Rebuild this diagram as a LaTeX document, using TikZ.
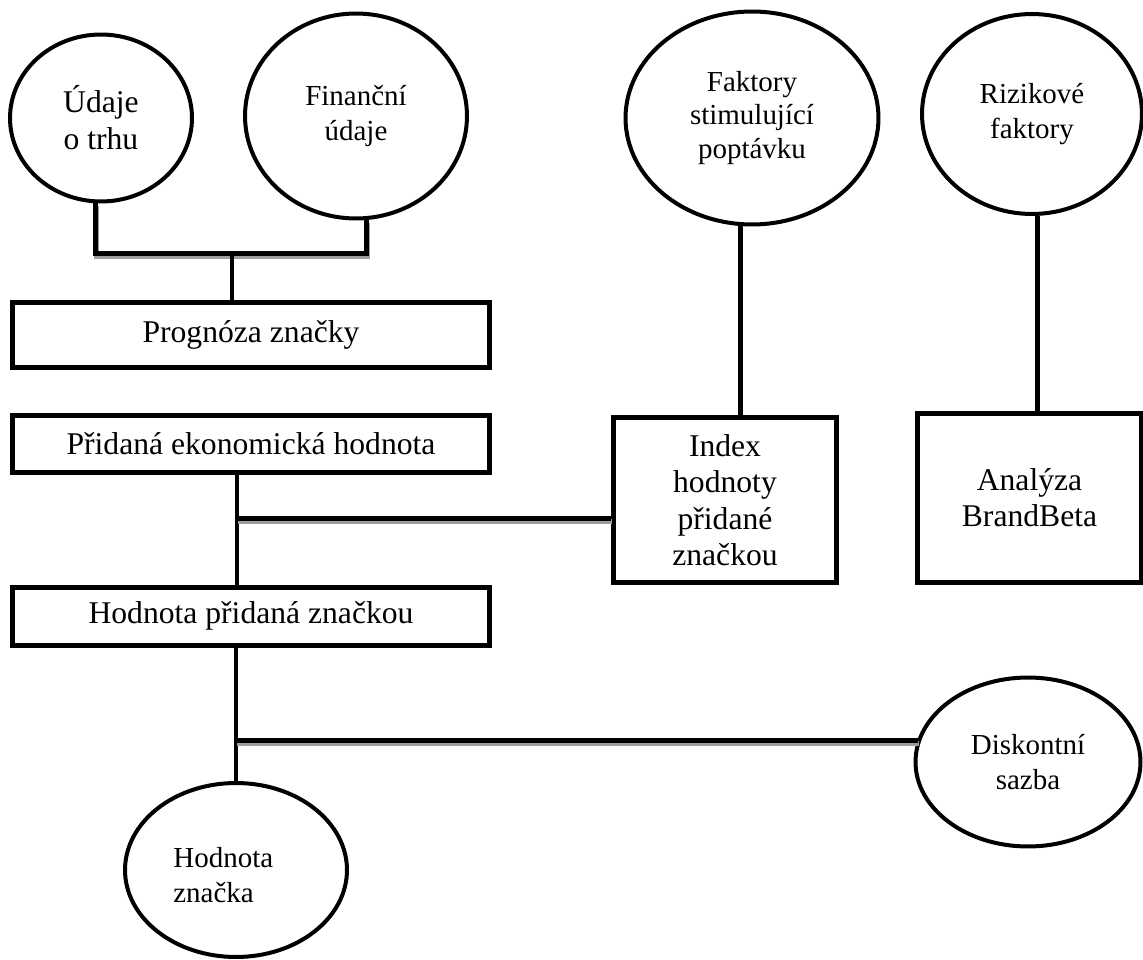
\documentclass[tikz,border=0pt]{standalone}
\usepackage{fontspec}
\setmainfont{Liberation Serif}
\usetikzlibrary{shapes.geometric}

\tikzset{
  bigtxt/.style={font=\fontsize{18}{21}\selectfont},
  smalltxt/.style={font=\fontsize{16.5}{20}\selectfont},
  oval/.style={ellipse, draw, line width=0.08cm, inner sep=0pt, align=center},
  box/.style={rectangle, draw, line width=0.1cm, inner sep=0pt, align=center, bigtxt},
  link/.style={line width=0.09cm},
  bar/.style={line width=0.1cm,
    preaction={draw=black!38, line width=0.1cm, transform canvas={shift={(0.02cm,-0.06cm)}}}},
}

\begin{document}
\begin{tikzpicture}[x=0.02cm, y=-0.02cm]
  \useasboundingbox (0,0) rectangle (1143,960);

  % sources at the top
  \node[oval, minimum width=3.64cm, minimum height=3.34cm, font=\fontsize{18}{21}\selectfont] (udaje) at (101,118) {Údaje\\o trhu};
  \node[oval, minimum width=4.44cm, minimum height=4.1cm, smalltxt] (fin) at (356,116) {Finanční\\údaje};
  \node[oval, minimum width=5.06cm, minimum height=4.26cm, font=\fontsize{16.5}{19}\selectfont] (fakt) at (752,118) {Faktory\\stimulující\\poptávku};
  \node[oval, minimum width=4.4cm, minimum height=4.0cm, smalltxt] (riz) at (1032,114) {Rizikové\\faktory};

  % boxes
  \node[box, minimum width=9.56cm, minimum height=1.32cm] (prog) at (251,335) {Prognóza značky};
  \node[box, minimum width=9.56cm, minimum height=1.16cm] (pev) at (251,444) {Přidaná ekonomická hodnota};
  \node[box, minimum width=9.56cm, minimum height=1.16cm] (hpz) at (251,616) {Hodnota přidaná značkou};
  \node[box, minimum width=4.48cm, minimum height=3.3cm, font=\fontsize{18}{20.7}\selectfont] (idx) at (725,500) {Index\\hodnoty\\přidané\\značkou};
  \node[box, minimum width=4.5cm, minimum height=3.4cm, font=\fontsize{18}{20.5}\selectfont] (bb) at (1029.5,498) {Analýza\\BrandBeta};

  % results
  \node[oval, minimum width=4.44cm, minimum height=3.48cm] (hz) at (236,870) {};
  \node[smalltxt, align=left, anchor=west, inner sep=0pt] (hzlabel) at (173,875) {Hodnota\\značka};
  \node[oval, minimum width=4.5cm, minimum height=3.38cm, smalltxt] (disk) at (1028,762) {Diskontní\\sazba};

  % connectors
  \coordinate (j1) at (232,253);
  \coordinate (j2) at (237,518);
  \coordinate (j3) at (236,740);

  \draw[bar] (udaje.266) |- (j1) -| (fin.276);
  \draw[link] (j1) -- (j1 |- prog.north);
  \draw[link] (fakt.264) -- (fakt.264 |- idx.north);
  \draw[link] (riz.273) -- (riz.273 |- bb.north);
  \draw[link] (pev.south -| j2) -- (hpz.north -| j2);
  \draw[bar] (j2) -- (j2 -| idx.west);
  \draw[link] (hpz.south -| j3) -- (hz.north);
  \draw[bar] (j3) -- (j3 -| disk.168);
\end{tikzpicture}
\end{document}
